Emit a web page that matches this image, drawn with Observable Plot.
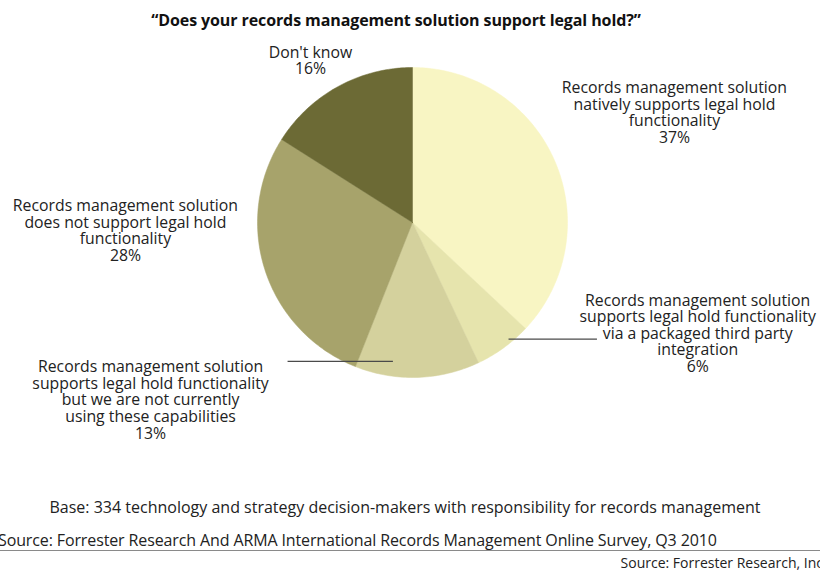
<!DOCTYPE html>
<html>
<head>
<meta charset="utf-8">
<script src="https://cdn.jsdelivr.net/npm/d3@7"></script>
<script src="https://cdn.jsdelivr.net/npm/@observablehq/plot@0.6"></script>
<style>
  html, body { margin: 0; padding: 0; background: #fff; }
  body { width: 820px; height: 576px; position: relative; overflow: hidden; font-family: "Open Sans", sans-serif; color: #222; }
  #chart { position: absolute; left: 0; top: 0; }
  .txt { position: absolute; white-space: nowrap; line-height: 1; }
  #title { top: 12px; left: 396px; transform: translateX(-50%); font-weight: bold; font-size: 16px; color: #111; letter-spacing: -0.1px; }
  #base { top: 499px; left: 405px; transform: translateX(-50%); font-size: 16px; }
  #src1 { top: 532px; left: -2px; font-size: 16px; letter-spacing: -0.12px; }
  #rule { position: absolute; top: 550px; left: 0; width: 820px; height: 0; border-top: 1px solid #8a8a8a; }
  #src2 { top: 556px; right: -3px; font-size: 14px; }
</style>
</head>
<body>
<div id="title" class="txt">“Does your records management solution support legal hold?”</div>
<div id="chart"></div>
<div id="base" class="txt">Base: 334 technology and strategy decision-makers with responsibility for records management</div>
<div id="src1" class="txt">Source: Forrester Research And ARMA International Records Management Online Survey, Q3 2010</div>
<div id="rule"></div>
<div id="src2" class="txt">Source: Forrester Research, Inc</div>
<script>
// ---- data ----
const categories = [
  "Records management solution\nnatively supports legal hold\nfunctionality",
  "Records management solution\nsupports legal hold functionality\nvia a packaged third party\nintegration",
  "Records management solution\nsupports legal hold functionality\nbut we are not currently\nusing these capabilities",
  "Records management solution\ndoes not support legal hold\nfunctionality",
  "Don't know"
];
const values = [37, 6, 13, 28, 16];
const colors = ["#f8f5c3", "#e6e4ad", "#d4d19d", "#a7a36b", "#6c6a35"];

// label anchor positions (pie radius units, y up) and leader lines
const labelX = [1.69, 1.84, -1.69, -1.852, -0.658];
const labelY = [0.91, -0.46, -0.89, 0.15, 1.14];
const leaderFrac = [null, 0.34, 0.71, null, null];   // where inside the slice the leader starts
const leaderR = [null, 0.975, 0.905, null, null];
const leaderEndX = [null, 1.19, -0.806, null, null];

// ---- build geometry from the data ----
const pie = d3.pie().sort(null).value(d => d.value).startAngle(0).endAngle(2 * Math.PI);
const rows = categories.map((c, i) => ({category: c, value: values[i], i}));
const arcs = pie(rows);

const polyPts = [];
arcs.forEach(a => {
  const name = a.data.category;
  polyPts.push({slice: name, x: 0, y: 0});
  const steps = Math.max(2, Math.ceil((a.endAngle - a.startAngle) / (Math.PI / 180)));
  for (let k = 0; k <= steps; k++) {
    const t = a.startAngle + (a.endAngle - a.startAngle) * k / steps;
    polyPts.push({slice: name, x: Math.sin(t), y: Math.cos(t)});
  }
  polyPts.push({slice: name, x: 0, y: 0});
});

const labels = arcs.map((a, i) => ({
  text: a.data.category + "\n" + a.data.value + "%",
  x: labelX[i], y: labelY[i]
}));

const leaders = [];
arcs.forEach((a, i) => {
  if (leaderEndX[i] == null) return;
  const t = a.startAngle + (a.endAngle - a.startAngle) * leaderFrac[i];
  const x1 = leaderR[i] * Math.sin(t), y1 = leaderR[i] * Math.cos(t);
  leaders.push({x1, y1, x2: leaderEndX[i], y2: y1});
});

const W = 820, H = 480;
const plot = Plot.plot({
  width: W,
  height: H,
  marginLeft: 257,
  marginRight: 253,
  marginTop: 67,
  marginBottom: 103,
  x: {domain: [-1, 1], axis: null},
  y: {domain: [-1, 1], axis: null},
  color: {domain: categories, range: colors},
  style: {background: "transparent", fontFamily: "Open Sans, sans-serif", overflow: "visible"},
  marks: [
    Plot.line(polyPts, {x: "x", y: "y", z: "slice", fill: "slice", stroke: "slice", strokeWidth: 0.5}),
    Plot.link(leaders, {x1: "x1", y1: "y1", x2: "x2", y2: "y2", stroke: "#4a4a4a", strokeWidth: 1.3}),
    Plot.text(labels, {x: "x", y: "y", text: "text", lineAnchor: "top", textAnchor: "middle",
      fontSize: 15.8, lineHeight: 1.05, fill: "#222"})
  ]
});
document.getElementById("chart").appendChild(plot);
</script>
</body>
</html>
